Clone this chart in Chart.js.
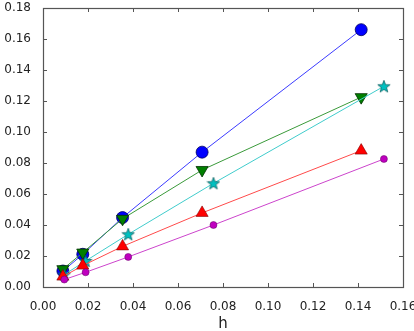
<!DOCTYPE html>
<html>
<head>
<meta charset="utf-8">
<script src="https://cdn.jsdelivr.net/npm/chart.js@4"></script>
<style>
  html, body { margin: 0; padding: 0; background: #fff; }
  #wrap { width: 414px; height: 331px; }
</style>
</head>
<body>
<div id="wrap"><canvas id="myChart" width="414" height="331"></canvas></div>
<script>
// mesh sizes
let hA = [0.00884, 0.01768, 0.03536, 0.07071, 0.14142];
let hB = [0.00947, 0.01894, 0.03788, 0.07576, 0.15152];
// errors per series
let blueErr = [0.0103, 0.0211, 0.0448, 0.0870, 0.166];
let greenErr = [0.0115, 0.0222, 0.0440, 0.0755, 0.1225];
let cyanErr = [0.0080, 0.0168, 0.0340, 0.0669, 0.1295];
let redErr = [0.0067, 0.0138, 0.0262, 0.0478, 0.0880];
let magentaErr = [0.0048, 0.0095, 0.0194, 0.0400, 0.0826];
let xTicks = [0, 0.02, 0.04, 0.06, 0.08, 0.10, 0.12, 0.14, 0.16];
let yTicks = [0, 0.02, 0.04, 0.06, 0.08, 0.10, 0.12, 0.14, 0.16, 0.18];

function pts(xs, ys) {
    return xs.map((x, i) => ({x: x, y: ys[i]}));
}

// filled five point star for the cyan series
function makeStar(color, edge) {
    let c = document.createElement('canvas');
    c.width = 14; c.height = 14;
    let g = c.getContext('2d');
    g.beginPath();
    for (let i = 0; i < 10; i++) {
        let r = i % 2 === 0 ? 6.5 : 2.7;
        let a = -Math.PI / 2 + i * Math.PI / 5;
        let px = 7 + r * Math.cos(a), py = 7.5 + r * Math.sin(a);
        if (i === 0) g.moveTo(px, py); else g.lineTo(px, py);
    }
    g.closePath();
    g.fillStyle = color;
    g.fill();
    g.lineWidth = 0.7;
    g.strokeStyle = edge;
    g.stroke();
    return c;
}

// inward ticks on all four sides plus the box
const frame = {
    id: 'frame',
    afterDraw(chart) {
        let ctx = chart.ctx, a = chart.chartArea;
        let xs = chart.scales.x, ys = chart.scales.y;
        ctx.save();
        ctx.strokeStyle = '#555';
        ctx.lineWidth = 1;
        ctx.beginPath();
        xTicks.forEach(v => {
            let px = Math.round(xs.getPixelForValue(v)) + 0.5;
            ctx.moveTo(px, a.bottom); ctx.lineTo(px, a.bottom - 4);
            ctx.moveTo(px, a.top); ctx.lineTo(px, a.top + 4);
        });
        yTicks.forEach(v => {
            let py = Math.round(ys.getPixelForValue(v)) + 0.5;
            ctx.moveTo(a.left, py); ctx.lineTo(a.left + 4, py);
            ctx.moveTo(a.right, py); ctx.lineTo(a.right - 4, py);
        });
        ctx.stroke();
        ctx.lineWidth = 1.2;
        ctx.strokeRect(Math.round(a.left) + 0.5, Math.round(a.top) + 0.5,
            Math.round(a.right - a.left), Math.round(a.bottom - a.top));
        ctx.restore();
    }
};

let ctx = document.querySelector('#myChart').getContext('2d');
let myChart = new Chart(ctx, {
    type: 'scatter',
    data: {
        datasets: [{
            data: pts(hA, blueErr),
            showLine: true,
            borderColor: '#3b3bff',
            borderWidth: 1,
            backgroundColor: '#0000ff',
            pointBackgroundColor: '#0000ff',
            pointBorderColor: '#000060',
            pointBorderWidth: 0.8,
            pointStyle: 'circle',
            pointRadius: 6,
            order: 5
        }, {
            data: pts(hA, greenErr),
            showLine: true,
            borderColor: '#3a9a3a',
            borderWidth: 1,
            pointBackgroundColor: '#007f00',
            pointBorderColor: '#003000',
            pointBorderWidth: 0.8,
            pointStyle: 'triangle',
            pointRotation: 180,
            pointRadius: 7,
            order: 4
        }, {
            data: pts(hB, cyanErr),
            showLine: true,
            borderColor: '#40cccc',
            borderWidth: 1,
            pointBackgroundColor: '#00bfbf',
            pointStyle: makeStar('#00bfbf', '#005555'),
            order: 3
        }, {
            data: pts(hA, redErr),
            showLine: true,
            borderColor: '#ff4a4a',
            borderWidth: 1,
            pointBackgroundColor: '#ff0000',
            pointBorderColor: '#800000',
            pointBorderWidth: 0.6,
            pointStyle: 'triangle',
            pointRadius: 7,
            order: 2
        }, {
            data: pts(hB, magentaErr),
            showLine: true,
            borderColor: '#cc44cc',
            borderWidth: 1,
            pointBackgroundColor: '#bf00bf',
            pointBorderColor: '#600060',
            pointBorderWidth: 0.5,
            pointStyle: 'circle',
            pointRadius: 3.5,
            order: 1
        }]
    },
    options: {
        responsive: false,
        animation: false,
        layout: { padding: { top: 8, right: 11, left: 0, bottom: 0 } },
        plugins: {
            legend: { display: false },
            tooltip: { enabled: false }
        },
        scales: {
            x: {
                type: 'linear',
                min: 0,
                max: 0.16,
                grid: { display: false, drawTicks: false },
                border: { display: false },
                afterBuildTicks: s => { s.ticks = xTicks.map(v => ({value: v})); },
                afterFit: s => { s.height = 44; s.paddingLeft = 0; s.paddingRight = 0; },
                ticks: {
                    padding: 13,
                    color: '#222',
                    font: { family: 'DejaVu Sans', size: 12 },
                    callback: v => v.toFixed(2)
                },
                title: {
                    display: true,
                    text: 'h',
                    color: '#222',
                    font: { family: 'DejaVu Sans', size: 15 },
                    padding: { top: 0, bottom: -2 }
                }
            },
            y: {
                type: 'linear',
                min: 0,
                max: 0.18,
                grid: { display: false, drawTicks: false },
                border: { display: false },
                afterBuildTicks: s => { s.ticks = yTicks.map(v => ({value: v})); },
                afterFit: s => { s.width = 43; s.paddingTop = 0; s.paddingBottom = 0; },
                ticks: {
                    padding: 12,
                    color: '#222',
                    font: { family: 'DejaVu Sans', size: 12 },
                    callback: v => v.toFixed(2)
                }
            }
        }
    },
    plugins: [frame]
});
</script>
</body>
</html>
